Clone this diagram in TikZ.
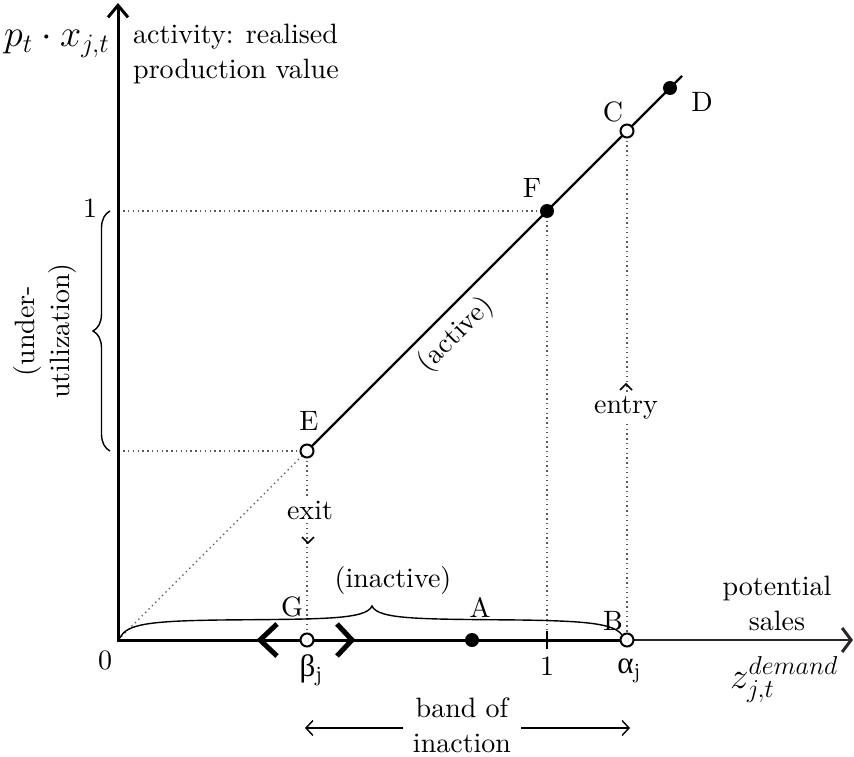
\RequirePackage{fix-cm}
\documentclass[tikz,border=0pt]{standalone}
\usepackage{fontspec}
\setmainfont{lmroman10-regular.otf}
\newfontfamily\grk{Liberation Serif}
\usetikzlibrary{arrows.meta,decorations.pathreplacing,calc}
\pgfdeclarelayer{bg}
\pgfsetlayers{bg,main}
\begin{document}
\begin{tikzpicture}[x=1pt,y=-1pt,
  lbl/.style={font=\fontsize{28}{35}\selectfont, inner sep=0pt},
  mathlbl/.style={font=\fontsize{37}{42}\selectfont, inner sep=0pt},
  axisline/.style={line width=3pt},
  thinaxis/.style={line width=1.6pt, black!85},
  diagline/.style={line width=2.4pt},
  dotline/.style={line width=1.4pt, black!65, dash pattern=on 1.4pt off 3.4pt},
  opendot/.style={circle, draw, line width=2pt, fill=white, inner sep=0pt, minimum size=13pt},
  fulldot/.style={circle, fill, inner sep=0pt, minimum size=14pt},
  chev/.style={line width=5pt, line join=miter},
  caret/.style={line width=1.5pt},
  bandarrow/.style={line width=1.4pt, -{Straight Barb[length=7pt,width=15pt]}},
  bracestyle/.style={line width=1.4pt},
  bracepath/.style={decorate, decoration={brace, amplitude=#1}, line width=1.4pt}
]
\useasboundingbox (0,0) rectangle (854,757);
% coordinates
\coordinate (O) at (118,640);
\coordinate (Ytop) at (118,3);
\coordinate (Xend) at (853,640);
\coordinate (Y1) at (118,211);
\coordinate (YE) at (118,451);
\coordinate (T1) at (547,640);
\coordinate (Lend) at (682,76);
\coordinate (bandL) at (305,728);
\coordinate (bandR) at (630,728);
% points
\node[opendot] (E) at (307,451) {};
\node[fulldot] (F) at (547,211) {};
\node[opendot] (C) at (627,131) {};
\node[fulldot] (D) at (670,88) {};
\node[opendot] (G) at (307,640) {};
\node[fulldot] (A) at (472,640) {};
\node[opendot] (B) at (627,640) {};
% labels
\node[lbl] (lblE) at (309,421) {E};
\node[lbl] (lblF) at (532,188) {F};
\node[lbl] (lblC) at (613,112) {C};
\node[lbl] (lblD) at (702,102) {D};
\node[lbl] (lblG) at (292,607) {G};
\node[lbl] (lblA) at (480,607) {A};
\node[lbl] (lblB) at (613,621) {B};
\node[lbl] (zero) at (105,660) {0};
\node[lbl, font=\fontsize{31}{35}\selectfont] (beta) at (311,670) {{\grk β}\textsubscript{j}};
\node[lbl] (one) at (547,666) {1};
\node[lbl, font=\fontsize{31}{35}\selectfont] (alpha) at (629,671) {{\grk α}\textsubscript{j}};
\node[lbl] (yone) at (90,208) {1};
\node[lbl, align=center] (pot) at (777,603) {potential\\sales};
\node[mathlbl, anchor=base west] (zdem) at (730,688) {$z_{j,t}^{demand}$};
\node[lbl, align=center, inner xsep=10pt] (band) at (462,725) {band of\\inaction};
\node[lbl, fill=white, inner sep=2pt] (exit) at (310,510) {exit};
\node[lbl, fill=white, inner sep=2pt] (entry) at (626,408) {entry};
\node[lbl] (inactive) at (393,580) {(inactive)};
\node[lbl, rotate=45] (active) at (456,335) {(active)};
\node[lbl, rotate=90, align=center] (under) at (45,331) {(under-\\utilization)};
\node[mathlbl, font=\fontsize{38}{42}\selectfont, anchor=base west] (pxlabel) at (4,47) {$p_t\cdot x_{j,t}$};
\node[lbl, align=left, anchor=west] (activity) at (133,54) {activity: realised\\production value};
% lines
\begin{pgfonlayer}{bg}
\draw[dotline] (O) -- (E.center);
\draw[dotline] (E.center) -- (YE);
\draw[dotline] (E.center) -- (G.center);
\draw[dotline] (F.center) -- (Y1);
\draw[dotline] (F.center) -- (T1);
\draw[dotline] (C.center) -- (B.center);
\draw[axisline, {Straight Barb[length=12pt,width=20pt]}-] (Ytop) -- (O) -- (B.center);
\draw[thinaxis, -{Straight Barb[length=9pt,width=24pt,line width=3pt]}] (B.center) -- (Xend);
\draw[diagline] (E.center) -- (Lend);
\draw[line width=2pt] ($(T1)+(0,-9)$) -- ($(T1)+(0,9)$);
\end{pgfonlayer}
% chevrons at G
\draw[chev] ($(G)+(-30,-16)$) -- ($(G)+(-47,0)$) -- ($(G)+(-30,16)$);
\draw[chev] ($(G)+(30,-16)$) -- ($(G)+(45,0)$) -- ($(G)+(30,16)$);
% carets
\draw[caret] (302,537) -- (308,543) -- (314,537);
\draw[caret] (620,390) -- (626,384) -- (632,390);
% band arrows
\draw[bandarrow] (band.west |- bandL) -- (bandL);
\draw[bandarrow] (band.east |- bandR) -- (bandR);
% brace over the inactive band
\draw[bracestyle] ($(O)+(2,-2)$) .. controls (126,624) and (150,621) .. (220,620)
  .. controls (320,619) and (366,620) .. (372,606)
  .. controls (378,620) and (424,619) .. (520,620)
  .. controls (590,621) and (614,624) .. ($(B)+(-5,-5)$);
% brace for under-utilization
\draw[bracepath=17] ($(YE)+(-8,0)$) -- ($(Y1)+(-8,0)$);
\end{tikzpicture}
\end{document}
